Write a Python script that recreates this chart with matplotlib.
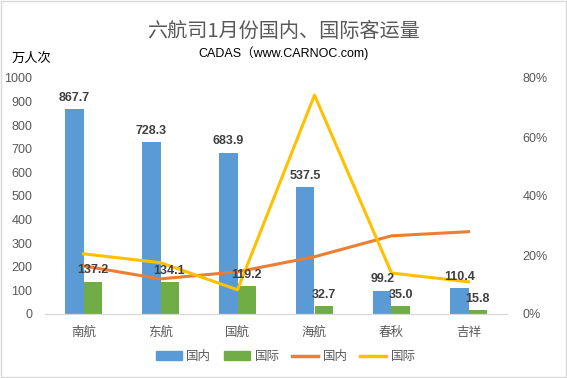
import numpy as np
import matplotlib.pyplot as plt
from matplotlib.lines import Line2D
from matplotlib.patches import Patch

plt.rcParams['font.family'] = ['Liberation Sans', 'Noto Sans CJK SC']

airlines = ['南航', '东航', '国航', '海航', '春秋', '吉祥']
dom = [867.7, 728.3, 683.9, 537.5, 99.2, 110.4]
intl = [137.2, 134.1, 119.2, 32.7, 35.0, 15.8]
dom_growth = [16.3, 11.9, 14.3, 19.4, 26.5, 27.9]   # %
intl_growth = [20.4, 17.4, 8.2, 74.2, 13.9, 10.9]  # %

blue = '#5B9BD5'
green = '#70AD47'
orange = '#ED7D31'
yellow = '#FFC000'
gray = '#595959'

fig = plt.figure(figsize=(5.67, 3.78), dpi=100)
ax = fig.add_axes([45/567, 1-314/378, 462/567, 236/378])
ax2 = ax.twinx()

x = np.arange(len(airlines))
w = 0.235
ax.bar(x - w/2, dom, w, color=blue, zorder=2)
ax.bar(x + w/2, intl, w, color=green, zorder=2)

ax2.plot(x, dom_growth, color=orange, lw=2.2, zorder=3)
ax2.plot(x, intl_growth, color=yellow, lw=2.2, zorder=3)

# labels go on the top axes so they sit over the lines
for i in range(len(x)):
    ax2.text(x[i] - w/2, dom[i] + 22, f'{dom[i]:.1f}', ha='center', va='bottom',
             fontsize=9, fontweight='bold', color='#404040', zorder=5,
             transform=ax.transData)
    ax2.text(x[i] + w/2, intl[i] + 22, f'{intl[i]:.1f}', ha='center', va='bottom',
             fontsize=9, fontweight='bold', color='#404040', zorder=5,
             transform=ax.transData)

ax.set_xlim(-0.5, len(x) - 0.5)
ax.set_ylim(0, 1000)
ax.set_yticks(np.arange(0, 1001, 100))
ax2.set_ylim(0, 80)
ax2.set_yticks(np.arange(0, 81, 20))
ax2.set_yticklabels([f'{v}%' for v in range(0, 81, 20)])
ax.set_xticks(x)
ax.set_xticklabels(airlines)

for a in (ax, ax2):
    for s in ['top', 'left', 'right']:
        a.spines[s].set_visible(False)
    a.spines['bottom'].set_color('#D9D9D9')
ax.tick_params(axis='y', length=0, pad=9, labelsize=9, labelcolor=gray)
ax.tick_params(axis='x', length=0, pad=9, labelsize=9, labelcolor=gray)
ax2.tick_params(axis='y', length=0, pad=11, labelsize=9, labelcolor=gray)
ax.set_zorder(2)
ax.patch.set_visible(False)
ax2.set_zorder(3)
ax2.patch.set_visible(False)

fig.text(0.5, 1 - 31/378, '六航司1月份国内、国际客运量', ha='center', va='center',
         fontsize=14.5, color=gray, family=['Noto Sans CJK SC'], fontweight='light')
fig.text(0.5, 1 - 53/378, 'CADAS（www.CARNOC.com)', ha='center', va='center',
         fontsize=9, color='black')
fig.text(12/567, 1 - 58/378, '万人次', ha='left', va='center', fontsize=9.5,
         color='black', family=['Noto Sans CJK SC'])

handles = [Patch(color=blue), Patch(color=green),
           Line2D([], [], color=orange, lw=2.5), Line2D([], [], color=yellow, lw=2.5)]
fig.legend(handles, ['国内', '国际', '国内', '国际'], loc='center', ncol=4,
           bbox_to_anchor=(0.504, 1 - 357/378), frameon=False, fontsize=9,
           handlelength=2.1, columnspacing=1.0, handletextpad=0.35,
           labelcolor=gray)

fig.patches.append(plt.Rectangle((0.002, 0.003), 0.996, 0.994, transform=fig.transFigure,
                                 fill=False, edgecolor='#D9D9D9', lw=1))

fig.savefig('out.png', dpi=100)
